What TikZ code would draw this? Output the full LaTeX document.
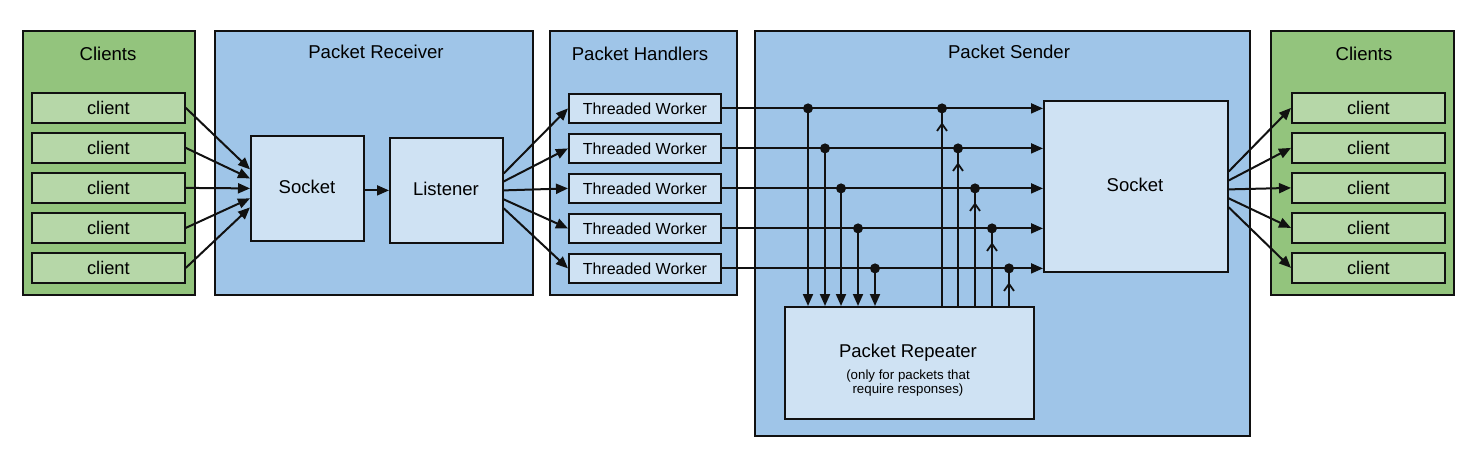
\documentclass[tikz,border=0pt]{standalone}
\usepackage{fontspec}
\setmainfont{Liberation Sans}
\usetikzlibrary{arrows.meta,decorations.markings,calc}
\definecolor{gouter}{HTML}{93C47D}
\definecolor{ginner}{HTML}{B6D7A8}
\definecolor{bouter}{HTML}{9FC5E8}
\definecolor{binner}{HTML}{CFE2F3}
\definecolor{ink}{HTML}{111111}
\begin{document}
\begin{tikzpicture}[x=1pt,y=-1pt,
  box/.style={draw=ink, line width=1.8pt, inner sep=0pt, anchor=north west},
  greenframe/.style={box, fill=gouter},
  blueframe/.style={box, fill=bouter},
  clientbox/.style={box, fill=ginner, minimum width=153pt, minimum height=30pt, font=\fontsize{18.3}{21}\selectfont},
  workerbox/.style={box, fill=binner, minimum width=152pt, minimum height=29pt, font=\fontsize{16}{18}\selectfont},
  innerbox/.style={box, fill=binner},
  title/.style={font=\fontsize{18.6}{22}\selectfont, inner sep=0pt},
  big/.style={font=\fontsize{18.5}{22}\selectfont},
  arr/.style={draw=ink, line width=2pt, -{Triangle[length=12pt,width=10pt]}},
  upline/.style={draw=ink, line width=2pt, postaction={decorate},
    decoration={markings, mark=at position -14pt with {\arrow[line width=1.8pt]{Straight Barb[length=7pt,width=10pt]}}}},
  dot/.style={circle, fill=ink, inner sep=0pt, minimum size=10pt}
]
\useasboundingbox (0,0) rectangle (1466,454);

% frames
\node[greenframe, minimum width=172pt, minimum height=264pt] (lc) at (22,30) {};
\node[title] (lct) at (108,54) {Clients};
\node[blueframe, minimum width=318pt, minimum height=264pt] (pr) at (214,30) {};
\node[title] (prt) at (376,52) {Packet Receiver};
\node[blueframe, minimum width=187pt, minimum height=264pt] (ph) at (549,30) {};
\node[title] (pht) at (640,54) {Packet Handlers};
\node[blueframe, minimum width=495pt, minimum height=405pt] (ps) at (754,30) {};
\node[title] (pst) at (1009,52) {Packet Sender};
\node[greenframe, minimum width=183pt, minimum height=264pt] (rc) at (1270,30) {};
\node[title] (rct) at (1364,54) {Clients};

% clients and workers
\foreach \i/\y in {1/92,2/132,3/172,4/212,5/252}{
  \node[clientbox] (lc\i) at (31,\y) {client};
  \node[clientbox] (rc\i) at (1291,\y) {client};
  \node[workerbox] (w\i) at (568,\y+1) {Threaded Worker};
}

% receiver
\node[innerbox, minimum width=113pt, minimum height=105pt] (s1) at (250,135) {};
\node[big] (s1t) at (307,187) {Socket};
\node[innerbox, minimum width=113pt, minimum height=105pt] (lis) at (389,137) {};
\node[big] (list) at (446,189) {Listener};

% sender
\node[innerbox, minimum width=184pt, minimum height=171pt] (s2) at (1043,100) {};
\node[big] (s2t) at (1135,185) {Socket};
\node[innerbox, minimum width=249pt, minimum height=112pt] (rep) at (784,306) {};
\node[big] (rept) at (908,353) {Packet Repeater};
\node[font=\fontsize{13.3}{14}\selectfont, align=center] (repn) at (908,383) {(only for packets that\\require responses)};

% clients -> socket
\foreach \i/\o in {1/-19,2/-10,3/0,4/10,5/19}{
  \draw[arr] (lc\i.east) -- ($(s1.west)+(0,\o)$);
}
\draw[arr] (s1.east |- lis.center) -- (lis.west);
% listener -> workers
\foreach \i/\o in {1/-17,2/-9,3/0,4/9,5/18}{
  \draw[arr] ($(lis.east)+(0,\o)$) -- (w\i.west);
}
% socket -> right clients
\foreach \i/\o in {1/-18,2/-9,3/0,4/9,5/18}{
  \draw[arr] ($(s2.east)+(0,\o+3)$) -- (rc\i.west);
}

% worker rows
\foreach \i/\dx/\ux in {1/808/942,2/825/958,3/841/975,4/858/992,5/875/1009}{
  \draw[arr] (w\i.east) -- (w\i.east -| s2.west);
  \node[dot] (d\i) at (\dx, 0 |- w\i.east) {};
  \node[dot] (u\i) at (\ux, 0 |- w\i.east) {};
  \draw[arr] (d\i.center) -- (d\i.center |- rep.north);
  \draw[upline] (u\i.center |- rep.north) -- (u\i.center);
}
\end{tikzpicture}
\end{document}
